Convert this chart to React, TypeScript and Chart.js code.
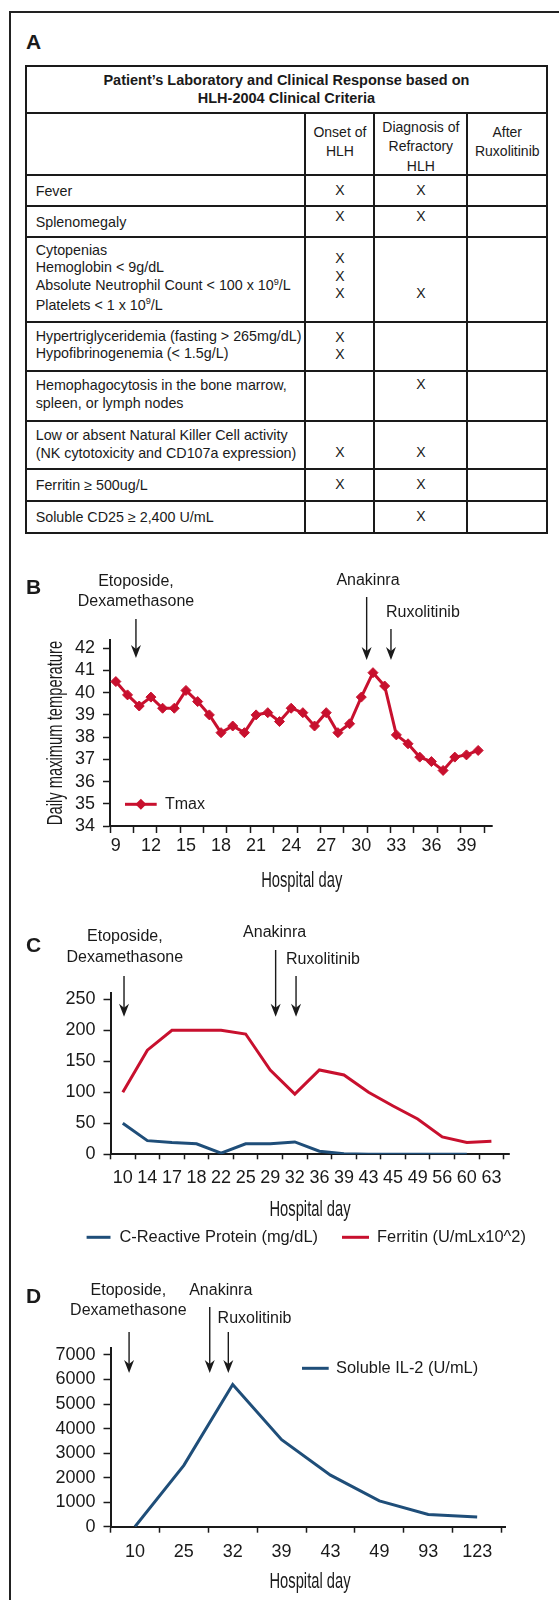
import React, { useEffect, useRef } from 'react';
import { Chart, registerables } from 'chart.js';

Chart.register(...registerables);

const FONT = "'Liberation Sans', Arial, Helvetica, sans-serif";
const INK = '#1a1a1a';
const RED = '#C8102E';
const BLUE = '#1F4E79';

// ---------------- Panel A (table) ----------------
const tableTitle = ['Patient\u2019s Laboratory and Clinical Response based on', 'HLH-2004 Clinical Criteria'];
const columnHeads: string[][] = [[], ['Onset of', 'HLH'], ['Diagnosis of', 'Refractory', 'HLH'], ['After', 'Ruxolitinib']];
const criteriaRows: string[][] = [
  ['Fever'],
  ['Splenomegaly'],
  ['Cytopenias', 'Hemoglobin < 9g/dL', 'Absolute Neutrophil Count < 100 x 10^9/L', 'Platelets < 1 x 10^9/L'],
  ['Hypertriglyceridemia (fasting > 265mg/dL)', 'Hypofibrinogenemia (< 1.5g/L)'],
  ['Hemophagocytosis in the bone marrow,', 'spleen, or lymph nodes'],
  ['Low or absent Natural Killer Cell activity', '(NK cytotoxicity and CD107a expression)'],
  ['Ferritin \u2265 500ug/L'],
  ['Soluble CD25 \u2265 2,400 U/mL'],
];
const onsetMarks = [1, 1, 3, 2, 0, 1, 1, 0];
const refractoryMarks = [1, 1, 1, 0, 1, 1, 1, 1];
const afterRuxMarks = [0, 0, 0, 0, 0, 0, 0, 0];

// ---------------- Panel B ----------------
const daysB = ['9', '10', '11', '12', '13', '14', '15', '16', '17', '18', '19', '20', '21', '22', '23', '24', '25', '26', '27', '28', '29', '30', '31', '32', '33', '34', '35', '36', '37', '38', '39', '40'];
const tmax = [40.5, 39.9, 39.4, 39.8, 39.3, 39.3, 40.1, 39.6, 39.0, 38.2, 38.5, 38.2, 39.0, 39.1, 38.7, 39.3, 39.1, 38.5, 39.1, 38.2, 38.6, 39.8, 40.9, 40.3, 38.1, 37.7, 37.1, 36.9, 36.5, 37.1, 37.2, 37.4];
const shownDaysB = ['9', '12', '15', '18', '21', '24', '27', '30', '33', '36', '39'];
const yTicksB = [34, 35, 36, 37, 38, 39, 40, 41, 42];

// ---------------- Panel C ----------------
const daysC = ['10', '14', '17', '18', '22', '25', '29', '32', '36', '39', '43', '45', '49', '56', '60', '63'];
const crp = [50, 22, 19, 17, 2, 17, 17, 20, 5, 1, 0, 0, 0, 0, 0];
const ferritin = [100, 168, 200, 200, 200, 194, 136, 97, 136, 128, 100, 78, 57, 28, 19, 21];
const yTicksC = [0, 50, 100, 150, 200, 250];

// ---------------- Panel D ----------------
const daysD = ['10', '25', '32', '39', '43', '49', '93', '123'];
const il2 = [0, 2500, 5800, 3550, 2100, 1050, 500, 400];
const yTicksD = [0, 1000, 2000, 3000, 4000, 5000, 6000, 7000];

// ---------------- layout ----------------
const colW = [279.8, 68.8, 93.1, 77.8];
const rowH = [47.6, 61.7, 30.7, 31, 85, 49.3, 49.7, 48.6, 31.7, 29.7];
const headShift = [0, -2.5, 2.5, -2.3];
const bodyShift = [[0.6, -0.3, -0.3], [0.5, -5.5, -5.5], [0, -3, 14], [-0.8, 0, 0], [-2, 0, -10.8], [-1, 8.3, 8.3], [0, 0, 0], [0, 0, 0]];
const bodyLH = [18, 18, 17.8, 17.6, 18.3, 18.3, 18, 18];

type Ann = { at: number; lines: string[]; align: CanvasTextAlign; dx: number; ys: number[]; top: number; tip: number };
type LegendItem = { ds: number; x0: number; x1: number; tx: number; y: number; marker?: boolean };
type Overlay = {
  top: number;
  anns: Ann[];
  xTitle: { x: number; base: number };
  yTitle?: { text: string; x: number; y: number };
  legend: LegendItem[];
  axisEnd: number;
  legendSize: number;
};

function Sup({ text }: { text: string }) {
  const parts = text.split(/\^(\d+)/);
  return (
    <>
      {parts.map((p, i) =>
        i % 2 ? (
          <span key={i} style={{ fontSize: '0.64em', position: 'relative', top: '-0.6em' }}>{p}</span>
        ) : (
          <React.Fragment key={i}>{p}</React.Fragment>
        )
      )}
    </>
  );
}

function Block({ lines, lh, shift, align, bold, size }: { lines: string[]; lh: number; shift: number; align: 'left' | 'center'; bold?: boolean; size?: number }) {
  return (
    <div style={{ transform: `translateY(${shift}px)`, lineHeight: `${lh}px`, textAlign: align, fontWeight: bold ? 700 : 400, fontSize: size ?? 14.3 }}>
      {lines.map((l, i) => (
        <div key={i} style={{ whiteSpace: 'nowrap' }}>
          <Sup text={l} />
        </div>
      ))}
    </div>
  );
}

function CriteriaTable() {
  const B = '2px solid ' + INK;
  const cells: React.ReactNode[] = [];
  const center: React.CSSProperties = { display: 'flex', alignItems: 'center', justifyContent: 'center', boxSizing: 'border-box' };
  cells.push(
    <div key="title" style={{ ...center, gridColumn: '1 / 5', borderBottom: B }}>
      <Block lines={tableTitle} lh={18.3} shift={-0.35} align="center" bold size={14.5} />
    </div>
  );
  columnHeads.forEach((h, c) =>
    cells.push(
      <div key={'h' + c} style={{ ...center, borderBottom: B, borderRight: c < 3 ? B : 'none' }}>
        <Block lines={h} lh={19.5} shift={headShift[c]} align="center" size={14} />
      </div>
    )
  );
  criteriaRows.forEach((row, r) => {
    const bb = r === criteriaRows.length - 1 ? 'none' : B;
    cells.push(
      <div key={'c' + r} style={{ ...center, justifyContent: 'flex-start', paddingLeft: 9, borderBottom: bb, borderRight: B }}>
        <Block lines={row} lh={bodyLH[r]} shift={bodyShift[r][0]} align="left" />
      </div>
    );
    [onsetMarks[r], refractoryMarks[r], afterRuxMarks[r]].forEach((m, c) =>
      cells.push(
        <div key={'m' + r + '-' + c} style={{ ...center, borderBottom: bb, borderRight: c < 2 ? B : 'none' }}>
          <Block lines={Array(m).fill('X')} lh={17.2} shift={c < 2 ? bodyShift[r][c + 1] : 0} align="center" size={14} />
        </div>
      )
    );
  });
  return (
    <div
      style={{
        position: 'absolute',
        left: 24.7,
        top: 64.7,
        width: 523.5,
        boxSizing: 'border-box',
        border: B,
        display: 'grid',
        gridTemplateColumns: colW.map((w) => w + 'px').join(' '),
        gridTemplateRows: rowH.map((h) => h + 'px').join(' '),
        fontSize: 14,
        color: INK,
      }}
    >
      {cells}
    </div>
  );
}

function drawArrow(ctx: CanvasRenderingContext2D, x: number, y0: number, y1: number) {
  ctx.lineWidth = 1.4;
  ctx.beginPath();
  ctx.moveTo(x, y0);
  ctx.lineTo(x, y1 - 8);
  ctx.stroke();
  ctx.beginPath();
  ctx.moveTo(x, y1);
  ctx.lineTo(x - 5, y1 - 13);
  ctx.lineTo(x, y1 - 9);
  ctx.lineTo(x + 5, y1 - 13);
  ctx.closePath();
  ctx.fill();
}

function condensed(ctx: CanvasRenderingContext2D, text: string, x: number, y: number, rotate: boolean) {
  ctx.save();
  ctx.translate(x, y);
  if (rotate) ctx.rotate(-Math.PI / 2);
  ctx.scale(0.67, 1);
  ctx.font = `22px ${FONT}`;
  ctx.textAlign = 'center';
  ctx.textBaseline = 'alphabetic';
  ctx.fillText(text, 0, 0);
  ctx.restore();
}

function overlayPlugin(o: Overlay) {
  return {
    id: 'overlay',
    afterDraw(chart: any) {
      const ctx = chart.ctx as CanvasRenderingContext2D;
      const ca = chart.chartArea;
      const xs = chart.scales.x;
      const T = o.top;
      ctx.save();
      ctx.strokeStyle = INK;
      ctx.fillStyle = INK;
      ctx.lineWidth = 2;
      const yb = Math.round(ca.bottom - 1) + 1;
      ctx.beginPath();
      ctx.moveTo(ca.right - 1, yb);
      ctx.lineTo(o.axisEnd, yb);
      ctx.stroke();

      ctx.font = `16px ${FONT}`;
      ctx.textBaseline = 'middle';
      for (const a of o.anns) {
        const x = xs.getPixelForValue(a.at);
        ctx.textAlign = a.align;
        a.lines.forEach((t, i) => ctx.fillText(t, x + a.dx, a.ys[i] - T));
        drawArrow(ctx, x, a.top - T, a.tip - T);
      }

      condensed(ctx, 'Hospital day', o.xTitle.x, o.xTitle.base - T, false);
      if (o.yTitle) condensed(ctx, o.yTitle.text, o.yTitle.x, o.yTitle.y - T, true);

      for (const it of o.legend) {
        const ds = chart.data.datasets[it.ds];
        const y = it.y - T;
        ctx.strokeStyle = ds.borderColor;
        ctx.lineWidth = 3;
        ctx.beginPath();
        ctx.moveTo(it.x0, y);
        ctx.lineTo(it.x1, y);
        ctx.stroke();
        if (it.marker) {
          const cx = (it.x0 + it.x1) / 2;
          const r = 5.5;
          ctx.fillStyle = ds.borderColor;
          ctx.beginPath();
          ctx.moveTo(cx - r, y);
          ctx.lineTo(cx, y - r);
          ctx.lineTo(cx + r, y);
          ctx.lineTo(cx, y + r);
          ctx.closePath();
          ctx.fill();
        }
        ctx.fillStyle = INK;
        ctx.font = `${o.legendSize}px ${FONT}`;
        ctx.textAlign = 'left';
        ctx.textBaseline = 'middle';
        ctx.fillText(ds.label, it.tx, y);
      }
      ctx.restore();
    },
  };
}

const tickFont = { family: FONT, size: 18, lineHeight: 1 };

function makeConfig(p: {
  top: number;
  height: number;
  area: { left: number; right: number; top: number; bottom: number };
  labels: string[];
  datasets: any[];
  yMin: number;
  yMax: number;
  yTicks: number[];
  xTickLen: number;
  xPad: number;
  xTickColor: any;
  xCallback: any;
  overlay: Overlay;
}): any {
  return {
    type: 'line',
    data: { labels: p.labels, datasets: p.datasets },
    options: {
      responsive: false,
      animation: false,
      events: [],
      layout: { padding: { top: p.area.top - p.top, right: 559 - p.area.right, bottom: 0, left: 0 } },
      plugins: { legend: { display: false }, tooltip: { enabled: false }, title: { display: false } },
      scales: {
        x: {
          type: 'category',
          offset: true,
          afterFit: (s: any) => {
            s.height = p.top + p.height - p.area.bottom;
          },
          grid: { display: true, offset: true, drawOnChartArea: false, drawTicks: true, tickLength: p.xTickLen, tickWidth: 1.5, tickColor: p.xTickColor },
          border: { display: true, color: INK, width: 2 },
          ticks: { autoSkip: false, maxRotation: 0, minRotation: 0, padding: p.xPad, color: INK, font: tickFont, callback: p.xCallback },
        },
        y: {
          min: p.yMin,
          max: p.yMax,
          afterFit: (s: any) => {
            s.width = p.area.left;
          },
          afterBuildTicks: (s: any) => {
            s.ticks = p.yTicks.map((v) => ({ value: v }));
          },
          grid: { display: true, drawOnChartArea: false, drawTicks: true, tickLength: 7, tickWidth: 1.5, tickColor: INK },
          border: { display: true, color: INK, width: 2 },
          ticks: { padding: 8, color: INK, font: tickFont, callback: (v: any) => String(v) },
        },
      },
    },
    plugins: [overlayPlugin(p.overlay)],
  };
}

function configB() {
  return makeConfig({
    top: 540,
    height: 360,
    area: { left: 110, right: 484, top: 640, bottom: 826 },
    labels: daysB,
    datasets: [
      {
        label: 'Tmax',
        data: tmax,
        borderColor: RED,
        backgroundColor: RED,
        borderWidth: 3,
        pointStyle: 'rectRot',
        pointRadius: 5,
        pointHoverRadius: 5,
        pointBackgroundColor: RED,
        pointBorderColor: RED,
        pointBorderWidth: 1,
        tension: 0,
      },
    ],
    yMin: 34,
    yMax: 42.37,
    yTicks: yTicksB,
    xTickLen: 7,
    xPad: 4,
    xTickColor: (c: any) => (c.index === undefined || c.index % 2 === 0 ? INK : 'rgba(0,0,0,0)'),
    xCallback: (_v: any, i: number) => (shownDaysB.includes(daysB[i]) ? daysB[i] : ''),
    overlay: {
      top: 540,
      anns: [
        { at: 1.72, lines: ['Etoposide,', 'Dexamethasone'], align: 'center', dx: 0, ys: [582, 602], top: 619, tip: 658 },
        { at: 21.46, lines: ['Anakinra'], align: 'center', dx: 1.3, ys: [580.7], top: 597, tip: 660 },
        { at: 23.54, lines: ['Ruxolitinib'], align: 'left', dx: -5, ys: [612.7], top: 629, tip: 660 },
      ],
      xTitle: { x: 301.7, base: 887.4 },
      yTitle: { text: 'Daily maximum temperature', x: 61.7, y: 733 },
      legend: [{ ds: 0, x0: 125, x1: 156.7, tx: 165, y: 804.3, marker: true }],
      axisEnd: 492.7,
      legendSize: 16,
    },
  });
}

function configC() {
  return makeConfig({
    top: 880,
    height: 380,
    area: { left: 110.5, right: 503.7, top: 993.3, bottom: 1154.3 },
    labels: daysC,
    datasets: [
      { label: 'C-Reactive Protein (mg/dL)', data: crp, borderColor: BLUE, backgroundColor: BLUE, borderWidth: 3, pointRadius: 0, tension: 0 },
      { label: 'Ferritin (U/mLx10^2)', data: ferritin, borderColor: RED, backgroundColor: RED, borderWidth: 3, pointRadius: 0, tension: 0 },
    ],
    yMin: 0,
    yMax: 259.68,
    yTicks: yTicksC,
    xTickLen: 5,
    xPad: 10,
    xTickColor: INK,
    xCallback: (_v: any, i: number) => daysC[i],
    overlay: {
      top: 880,
      anns: [
        { at: 0.05, lines: ['Etoposide,', 'Dexamethasone'], align: 'center', dx: 0.8, ys: [936.7, 957.3], top: 976, tip: 1016.7 },
        { at: 6.22, lines: ['Anakinra'], align: 'center', dx: -1, ys: [933], top: 950, tip: 1016.7 },
        { at: 7.05, lines: ['Ruxolitinib'], align: 'left', dx: -10, ys: [960], top: 976, tip: 1016.7 },
      ],
      xTitle: { x: 310, base: 1215.7 },
      legend: [
        { ds: 0, x0: 86.6, x1: 110.5, tx: 119.4, y: 1237.3 },
        { ds: 1, x0: 342, x1: 369, tx: 377, y: 1237.3 },
      ],
      axisEnd: 509.8,
      legendSize: 16.4,
    },
  });
}

function configD() {
  return makeConfig({
    top: 1260,
    height: 340,
    area: { left: 110.5, right: 501.6, top: 1348.3, bottom: 1526.7 },
    labels: daysD,
    datasets: [{ label: 'Soluble IL-2 (U/mL)', data: il2, borderColor: BLUE, backgroundColor: BLUE, borderWidth: 3, pointRadius: 0, tension: 0 }],
    yMin: 0,
    yMax: 7273,
    yTicks: yTicksD,
    xTickLen: 6,
    xPad: 10,
    xTickColor: INK,
    xCallback: (_v: any, i: number) => daysD[i],
    overlay: {
      top: 1260,
      anns: [
        { at: -0.12, lines: ['Etoposide,', 'Dexamethasone'], align: 'center', dx: -0.7, ys: [1291, 1310.7], top: 1332, tip: 1373 },
        { at: 1.53, lines: ['Anakinra'], align: 'center', dx: 11, ys: [1291], top: 1307, tip: 1373 },
        { at: 1.91, lines: ['Ruxolitinib'], align: 'left', dx: -10.7, ys: [1319], top: 1332, tip: 1373 },
      ],
      xTitle: { x: 310, base: 1588 },
      legend: [{ ds: 0, x0: 302, x1: 328.7, tx: 336, y: 1368.3 }],
      axisEnd: 506,
      legendSize: 16.4,
    },
  });
}

function ChartCanvas({ top, height, build }: { top: number; height: number; build: () => any }) {
  const ref = useRef<HTMLCanvasElement>(null);
  useEffect(() => {
    const chart = new Chart(ref.current as HTMLCanvasElement, build());
    return () => chart.destroy();
  }, []);
  return <canvas ref={ref} width={559} height={height} style={{ position: 'absolute', left: 0, top, width: 559, height }} />;
}

const panelLetters = [
  { t: 'A', base: 48.3 },
  { t: 'B', base: 593.3 },
  { t: 'C', base: 951.7 },
  { t: 'D', base: 1303 },
];

export default function App() {
  return (
    <div style={{ position: 'absolute', left: 0, top: 0, width: 559, height: 1600, overflow: 'hidden', background: '#fff', fontFamily: FONT, color: INK }}>
      <div style={{ position: 'absolute', left: 8.6, top: 11, width: 560, height: 1600, borderLeft: '2px solid #222', borderTop: '2px solid #222' }} />
      <CriteriaTable />
      <ChartCanvas top={540} height={360} build={configB} />
      <ChartCanvas top={880} height={380} build={configC} />
      <ChartCanvas top={1260} height={340} build={configD} />
      {panelLetters.map((p) => (
        <div key={p.t} style={{ position: 'absolute', left: 26, top: p.base - 17.8, fontSize: 21, lineHeight: '21px', fontWeight: 700 }}>
          {p.t}
        </div>
      ))}
    </div>
  );
}
